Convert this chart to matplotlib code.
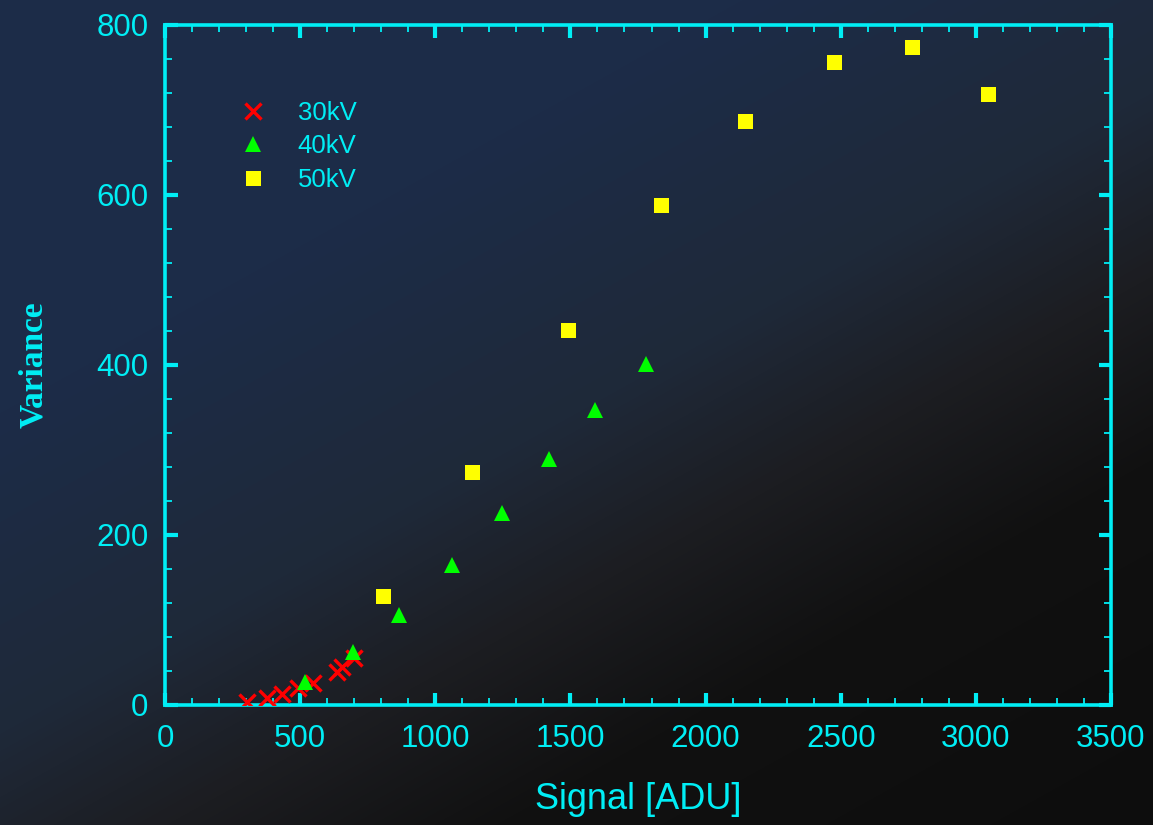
import numpy as np
import matplotlib
matplotlib.use("Agg")
import matplotlib.pyplot as plt
from matplotlib.colors import LinearSegmentedColormap
from matplotlib.ticker import MultipleLocator

# Measured signal / variance pairs for three tube voltages
signal_30kv = [302, 378, 434, 493, 546, 636, 655, 699]
variance_30kv = [3.9, 7.9, 12.9, 19.6, 26.2, 38.8, 44.7, 55.3]

signal_40kv = [518, 697, 866, 1062, 1246, 1420, 1591, 1778]
variance_40kv = [27.4, 62.0, 106, 165, 225.5, 289, 347, 401]

signal_50kv = [808, 1137, 1492, 1836, 2147, 2476, 2765, 3046]
variance_50kv = [127.9, 273.8, 440.8, 587.9, 686.7, 756.1, 773.8, 718.5]

series_labels = ["30kV", "40kV", "50kV"]

CYAN = "#00EEF5"

fig = plt.figure(figsize=(11.53, 8.25), dpi=100)

# Diagonal backdrop: navy in the upper left fading to near black at the bottom right
bg = fig.add_axes([0, 0, 1, 1], zorder=-10)
h, w = 825, 1153
yy, xx = np.mgrid[0:h, 0:w]
t = 0.7 * xx / w + 0.9 * yy / h
stops = [(0.0, "#1c2c48"), (0.45, "#1c2c48"), (0.8, "#1f2939"),
         (1.0, "#1c1d21"), (1.2, "#111111"), (1.6, "#0d0d0d")]
cmap = LinearSegmentedColormap.from_list(
    "bg", [(p / 1.6, c) for p, c in stops])
bg.imshow(t, cmap=cmap, vmin=0, vmax=1.6, aspect="auto",
          extent=[0, 1, 0, 1], origin="upper", interpolation="bilinear")
bg.set_axis_off()

ax = fig.add_axes([165 / 1153, 120 / 825, 946 / 1153, 680 / 825])
ax.set_facecolor("none")

ax.plot(signal_30kv, variance_30kv, linestyle="none", marker="x",
        markersize=11.5, markeredgewidth=2.4, color="#ff0000",
        label=series_labels[0], zorder=3)
ax.plot(signal_40kv, variance_40kv, linestyle="none", marker="^",
        markersize=11.5, color="#00ff00", markeredgewidth=0,
        label=series_labels[1], zorder=4)
ax.plot(signal_50kv, variance_50kv, linestyle="none", marker="s",
        markersize=10.8, color="#ffff00", markeredgewidth=0,
        label=series_labels[2], zorder=5)

ax.set_xlim(0, 3500)
ax.set_ylim(0, 800)
ax.xaxis.set_major_locator(MultipleLocator(500))
ax.xaxis.set_minor_locator(MultipleLocator(100))
ax.yaxis.set_major_locator(MultipleLocator(200))
ax.yaxis.set_minor_locator(MultipleLocator(40))

for spine in ax.spines.values():
    spine.set_color(CYAN)
    spine.set_linewidth(2.6)

ax.tick_params(which="both", direction="in", top=True, right=True,
               color=CYAN, labelcolor=CYAN)
ax.tick_params(which="major", length=9, width=3.0, labelsize=22.5)
ax.tick_params(axis="x", which="major", pad=14)
ax.tick_params(axis="y", which="major", pad=12)
ax.tick_params(which="minor", length=5, width=1.3)
for tl in ax.xaxis.get_majorticklines() + ax.yaxis.get_majorticklines():
    tl.set_solid_capstyle("round")
for lab in ax.get_xticklabels() + ax.get_yticklabels():
    lab.set_fontfamily("Liberation Sans")

ax.set_xlabel("Signal [ADU]", color=CYAN, fontsize=26,
              fontfamily="Liberation Sans", labelpad=20)
ax.set_ylabel("Variance", color=CYAN, fontsize=24, fontweight="bold",
              fontfamily="Liberation Serif", labelpad=34)

leg = ax.legend(loc="upper left", bbox_to_anchor=(0.079, 0.888),
                frameon=False, prop={"family": "Liberation Sans", "size": 18.5},
                labelcolor=CYAN, handlelength=1.0, handletextpad=1.25,
                borderpad=0, borderaxespad=0, labelspacing=0.36,
                numpoints=1)

fig.savefig("out.png", dpi=100)
